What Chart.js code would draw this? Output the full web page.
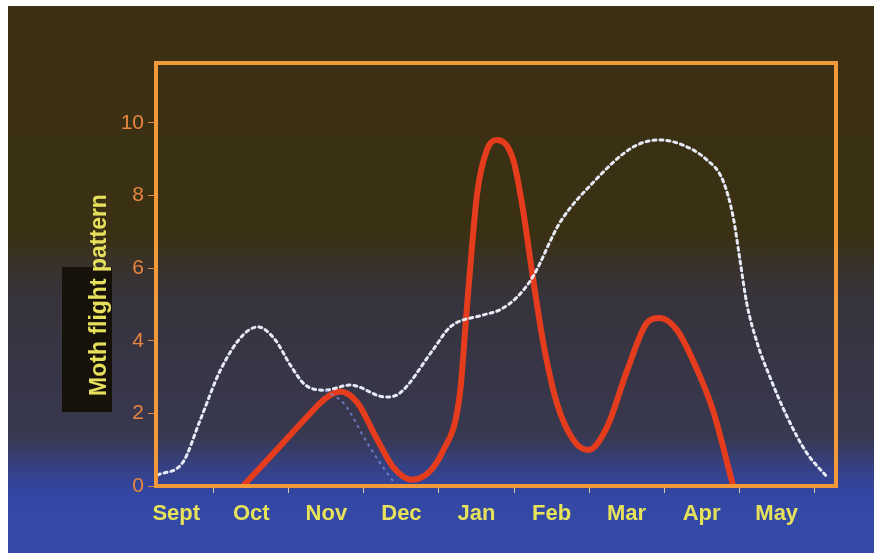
<!DOCTYPE html>
<html>
<head>
<meta charset="utf-8">
<script src="https://cdn.jsdelivr.net/npm/chart.js@4.4.1/dist/chart.umd.min.js"></script>
<style>
html, body { margin: 0; padding: 0; background: #fff; }
#wrap { position: relative; width: 874px; height: 553px; overflow: hidden; }
#photo {
  position: absolute; left: 8px; top: 6px; right: 0; bottom: 0;
  background: linear-gradient(to bottom, #3b3012 0px, #3a3014 230px, #38322c 262px, #37333c 290px, #383850 430px, #35428a 466px, #3347a4 490px, #364ba8 547px);
}
#blackbox { position: absolute; left: 62px; top: 267px; width: 50px; height: 145px; background: #16120a; }
canvas { position: absolute; left: 0; top: 0; }
</style>
</head>
<body>
<div id="wrap">
  <div id="photo"></div>
  <div id="blackbox"></div>
  <canvas id="myChart" width="874" height="553"></canvas>
</div>
<script>
// months, one per slot on the x axis (0 = Sept)
var months = ['Sept', 'Oct', 'Nov', 'Dec', 'Jan', 'Feb', 'Mar', 'Apr', 'May'];
var yTicks = [0, 2, 4, 6, 8, 10];

// solid red curve
var redX = [0.89, 1.42, 1.74, 1.98, 2.18, 2.41, 2.68, 2.89, 3.14, 3.56, 3.78, 3.87, 4.01, 4.14, 4.27, 4.49, 4.62, 4.75, 4.89, 5.07, 5.29, 5.49, 5.74, 6.01, 6.27, 6.44, 6.67, 6.94, 7.15, 7.42];
var redY = [0, 1.18, 1.9, 2.4, 2.6, 2.3, 1.27, 0.52, 0.17, 0.99, 2.56, 4.85, 8.07, 9.26, 9.53, 8.98, 7.6, 5.76, 3.94, 2.29, 1.27, 0.99, 1.63, 3.2, 4.49, 4.63, 4.3, 3.2, 2.09, 0];

// dotted white curve
var whiteX = [-0.25, 0.09, 0.32, 0.59, 0.89, 1.09, 1.32, 1.52, 1.72, 1.98, 2.32, 2.79, 2.98, 3.42, 3.65, 4.09, 4.31, 4.54, 4.75, 5.11, 5.55, 6.09, 6.44, 6.75, 7.07, 7.28, 7.42, 7.51, 7.6, 7.74, 7.91, 8.14, 8.4, 8.67];
var whiteY = [0.3, 0.66, 1.82, 3.2, 4.16, 4.38, 4.02, 3.33, 2.78, 2.64, 2.78, 2.45, 2.56, 3.75, 4.38, 4.71, 4.85, 5.2, 5.76, 7.25, 8.35, 9.34, 9.53, 9.39, 8.98, 8.43, 7.41, 6.23, 5.04, 3.94, 3.0, 1.9, 0.91, 0.25];

// faint blue dotted branch under Nov
var blueX = [1.98, 2.25, 2.52, 2.78, 2.94];
var blueY = [2.64, 2.23, 1.27, 0.44, 0];

function pts(xs, ys) {
  return xs.map(function (x, i) { return { x: x, y: ys[i] }; });
}

var framePlugin = {
  id: 'frame',
  afterDraw: function (chart) {
    var ctx = chart.ctx;
    var a = chart.chartArea;
    ctx.save();
    ctx.strokeStyle = '#f29a3a';
    ctx.lineWidth = 4;
    ctx.strokeRect(a.left, a.top, a.right - a.left, a.bottom - a.top);
    // slide title on the left, set a bit low like the photo
    ctx.translate(100, 295);
    ctx.rotate(-Math.PI / 2);
    ctx.fillStyle = '#e6e05c';
    ctx.font = 'bold 23px "Liberation Sans", Arial, sans-serif';
    ctx.textAlign = 'center';
    ctx.textBaseline = 'middle';
    ctx.fillText('Moth flight pattern', 0, 0);
    ctx.restore();
  }
};

var ctx = document.getElementById('myChart').getContext('2d');
var myChart = new Chart(ctx, {
  type: 'line',
  data: {
    datasets: [{
      label: 'blue',
      data: pts(blueX, blueY),
      borderColor: 'rgba(120,140,225,0.75)',
      borderWidth: 2,
      borderDash: [3, 4],
      pointRadius: 0,
      cubicInterpolationMode: 'monotone'
    }, {
      label: 'white',
      data: pts(whiteX, whiteY),
      borderColor: '#e6eaf6',
      borderWidth: 3,
      borderDash: [3, 4],
      borderCapStyle: 'round',
      pointRadius: 0,
      cubicInterpolationMode: 'monotone'
    }, {
      label: 'red',
      data: pts(redX, redY),
      borderColor: '#e63c1e',
      borderWidth: 6,
      borderCapStyle: 'round',
      borderJoinStyle: 'round',
      pointRadius: 0,
      cubicInterpolationMode: 'monotone'
    }]
  },
  options: {
    responsive: false,
    animation: false,
    layout: { padding: { left: 0, top: 63, right: 38, bottom: 0 } },
    plugins: {
      legend: { display: false },
      tooltip: { enabled: false }
    },
    scales: {
      x: {
        type: 'linear',
        min: -0.27,
        max: 8.79,
        afterBuildTicks: function (scale) {
          var t = [];
          for (var i = 0; i < months.length; i++) {
            t.push({ value: i });
            t.push({ value: i + 0.5 });
          }
          scale.ticks = t;
        },
        afterFit: function (scale) { scale.height = 67; },
        border: { display: false },
        grid: {
          drawOnChartArea: false,
          tickLength: 7,
          tickColor: function (c) { return c.tick && c.tick.value % 1 ? '#d9ccaa' : 'rgba(0,0,0,0)'; }
        },
        ticks: {
          autoSkip: false,
          maxRotation: 0,
          padding: 8,
          color: '#e6e25a',
          font: { family: '"Liberation Sans", Arial, sans-serif', size: 22, weight: 'bold' },
          callback: function (v) { return v % 1 ? '' : months[v]; }
        }
      },
      y: {
        min: 0,
        max: 11.65,
        afterBuildTicks: function (scale) {
          scale.ticks = yTicks.map(function (v) { return { value: v }; });
        },
        afterFit: function (scale) { scale.width = 156; },
        border: { display: false },
        grid: {
          drawOnChartArea: false,
          tickLength: 8,
          tickColor: '#e8853f'
        },
        ticks: {
          padding: 4,
          color: '#e8853f',
          font: { family: '"Liberation Sans", Arial, sans-serif', size: 21 }
        }
      }
    }
  },
  plugins: [framePlugin]
});
</script>
</body>
</html>
